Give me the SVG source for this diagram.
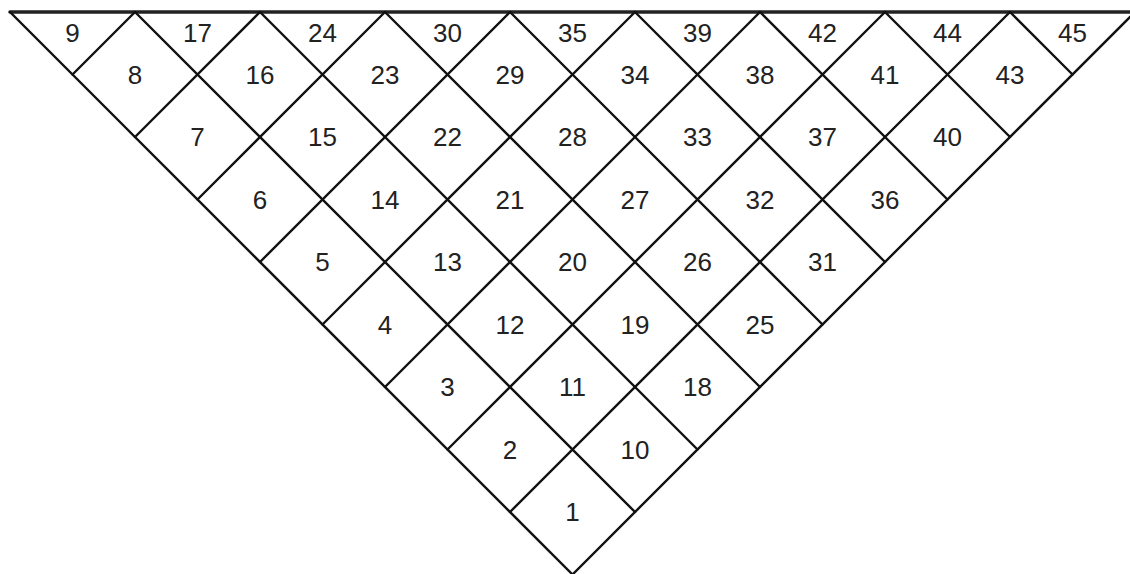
<svg xmlns="http://www.w3.org/2000/svg" width="1130" height="574" viewBox="0 0 1130 574">
<style>
.g{stroke:#111;stroke-width:2.4;fill:none;stroke-linecap:round}
.top{stroke:#222;stroke-width:3.5}
text{font-family:"Liberation Sans",Arial,sans-serif;font-size:26px;fill:#222;text-anchor:middle;dominant-baseline:central}
</style>
<rect width="1130" height="574" fill="#fff"/>
<g id="grid">
<line class="g top" x1="10" y1="12" x2="1130" y2="12"/>
<line class="g" x1="572.5" y1="574.5" x2="10" y2="12"/>
<line class="g" x1="635" y1="512" x2="135" y2="12"/>
<line class="g" x1="697.5" y1="449.5" x2="260" y2="12"/>
<line class="g" x1="760" y1="387" x2="385" y2="12"/>
<line class="g" x1="822.5" y1="324.5" x2="510" y2="12"/>
<line class="g" x1="885" y1="262" x2="635" y2="12"/>
<line class="g" x1="947.5" y1="199.5" x2="760" y2="12"/>
<line class="g" x1="1010" y1="137" x2="885" y2="12"/>
<line class="g" x1="1072.5" y1="74.5" x2="1010" y2="12"/>
<line class="g" x1="572.5" y1="574.5" x2="1135" y2="12"/>
<line class="g" x1="510" y1="512" x2="1010" y2="12"/>
<line class="g" x1="447.5" y1="449.5" x2="885" y2="12"/>
<line class="g" x1="385" y1="387" x2="760" y2="12"/>
<line class="g" x1="322.5" y1="324.5" x2="635" y2="12"/>
<line class="g" x1="260" y1="262" x2="510" y2="12"/>
<line class="g" x1="197.5" y1="199.5" x2="385" y2="12"/>
<line class="g" x1="135" y1="137" x2="260" y2="12"/>
<line class="g" x1="72.5" y1="74.5" x2="135" y2="12"/>
</g>
<g id="c1"><text x="572.5" y="512">1</text></g>
<g id="c2"><text x="510" y="449.5">2</text></g>
<g id="c3"><text x="447.5" y="387">3</text></g>
<g id="c4"><text x="385" y="324.5">4</text></g>
<g id="c5"><text x="322.5" y="262">5</text></g>
<g id="c6"><text x="260" y="199.5">6</text></g>
<g id="c7"><text x="197.5" y="137">7</text></g>
<g id="c8"><text x="135" y="74.5">8</text></g>
<g id="c9"><text x="72.5" y="33">9</text></g>
<g id="c10"><text x="635" y="449.5">10</text></g>
<g id="c11"><text x="572.5" y="387">11</text></g>
<g id="c12"><text x="510" y="324.5">12</text></g>
<g id="c13"><text x="447.5" y="262">13</text></g>
<g id="c14"><text x="385" y="199.5">14</text></g>
<g id="c15"><text x="322.5" y="137">15</text></g>
<g id="c16"><text x="260" y="74.5">16</text></g>
<g id="c17"><text x="197.5" y="33">17</text></g>
<g id="c18"><text x="697.5" y="387">18</text></g>
<g id="c19"><text x="635" y="324.5">19</text></g>
<g id="c20"><text x="572.5" y="262">20</text></g>
<g id="c21"><text x="510" y="199.5">21</text></g>
<g id="c22"><text x="447.5" y="137">22</text></g>
<g id="c23"><text x="385" y="74.5">23</text></g>
<g id="c24"><text x="322.5" y="33">24</text></g>
<g id="c25"><text x="760" y="324.5">25</text></g>
<g id="c26"><text x="697.5" y="262">26</text></g>
<g id="c27"><text x="635" y="199.5">27</text></g>
<g id="c28"><text x="572.5" y="137">28</text></g>
<g id="c29"><text x="510" y="74.5">29</text></g>
<g id="c30"><text x="447.5" y="33">30</text></g>
<g id="c31"><text x="822.5" y="262">31</text></g>
<g id="c32"><text x="760" y="199.5">32</text></g>
<g id="c33"><text x="697.5" y="137">33</text></g>
<g id="c34"><text x="635" y="74.5">34</text></g>
<g id="c35"><text x="572.5" y="33">35</text></g>
<g id="c36"><text x="885" y="199.5">36</text></g>
<g id="c37"><text x="822.5" y="137">37</text></g>
<g id="c38"><text x="760" y="74.5">38</text></g>
<g id="c39"><text x="697.5" y="33">39</text></g>
<g id="c40"><text x="947.5" y="137">40</text></g>
<g id="c41"><text x="885" y="74.5">41</text></g>
<g id="c42"><text x="822.5" y="33">42</text></g>
<g id="c43"><text x="1010" y="74.5">43</text></g>
<g id="c44"><text x="947.5" y="33">44</text></g>
<g id="c45"><text x="1072.5" y="33">45</text></g>
</svg>
